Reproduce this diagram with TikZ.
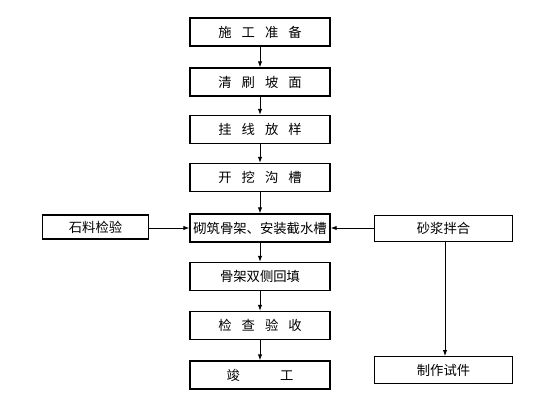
\documentclass[tikz,border=0pt]{standalone}
\usepackage{fontspec}
\usepackage{tikz}
\usetikzlibrary{arrows.meta}
\setmainfont{Noto Sans CJK SC}
\newcommand{\kg}{\hspace{0.75em}}

\begin{document}
\begin{tikzpicture}[x=0.75pt, y=-0.75pt,
  stepbox/.style={draw=black, line width=0.8pt, minimum width=105pt, minimum height=21pt, inner sep=1pt, font=\fontsize{10pt}{12pt}\selectfont},
  sidebox/.style={stepbox, minimum width=104pt, minimum height=20pt},
  flow/.style={line width=0.7pt, -{Latex[length=4.5pt,width=3.2pt]}}]
  \useasboundingbox (0,0) rectangle (560,420);
  % main column
  \node[stepbox] (prep) at (260,32) {施\kg 工\kg 准\kg 备};
  \node[stepbox] (brush) at (260,82) {清\kg 刷\kg 坡\kg 面};
  \node[stepbox] (line) at (260,129.5) {挂\kg 线\kg 放\kg 样};
  \node[stepbox] (dig) at (260,177.5) {开\kg 挖\kg 沟\kg 槽};
  \node[stepbox] (frame) at (260,228) {砌筑骨架、安装截水槽};
  \node[stepbox] (fill) at (260,276.5) {骨架双侧回填};
  \node[stepbox] (check) at (260,325.5) {检\kg 查\kg 验\kg 收};
  \node[stepbox] (done) at (260,375) {竣\hspace{3em}工};
  % side boxes
  \node[sidebox, minimum width=79pt, minimum height=18pt] (stone) at (95.5,227) {石料检验};
  \node[sidebox] (mortar) at (443.5,228.5) {砂浆拌合};
  \node[sidebox] (sample) at (443.5,370) {制作试件};

  \draw[flow] (prep) -- (brush);
  \draw[flow] (brush) -- (line);
  \draw[flow] (line) -- (dig);
  \draw[flow] (dig) -- (frame);
  \draw[flow] (frame) -- (fill);
  \draw[flow] (fill) -- (check);
  \draw[flow] (check) -- (done);
  \draw[flow] (stone.east |- frame) -- (frame);
  \draw[flow] (mortar.west |- frame) -- (frame);
  \draw[flow] (mortar.south -| 445,0) -- (sample.north -| 445,0);
\end{tikzpicture}
\end{document}
